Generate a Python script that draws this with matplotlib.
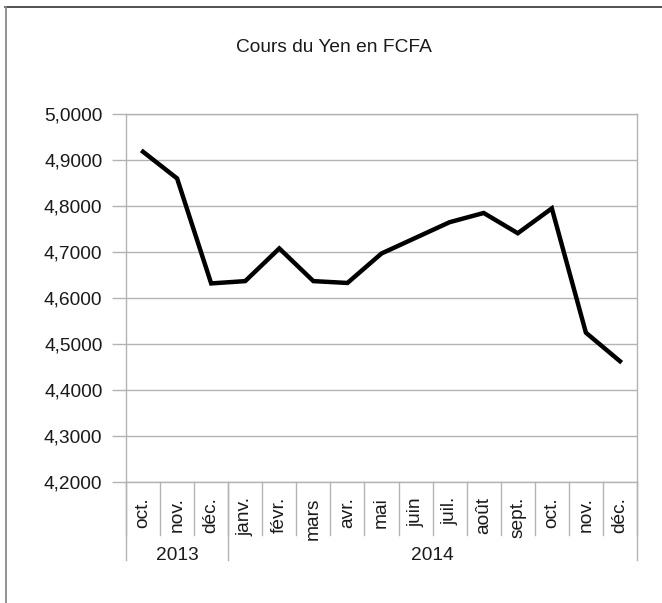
import matplotlib
matplotlib.use("Agg")
import matplotlib.pyplot as plt
from matplotlib.lines import Line2D
from matplotlib.ticker import FuncFormatter
import matplotlib.transforms as mtransforms
import numpy as np

plt.rcParams['font.family'] = ['Liberation Sans', 'DejaVu Sans']

title = "Cours du Yen en FCFA"
months = ["oct.", "nov.", "déc.", "janv.", "févr.", "mars", "avr.", "mai",
          "juin", "juil.", "août", "sept.", "oct.", "nov.", "déc."]
years = ["2013", "2014"]
year_counts = [3, 12]
values = [4.918, 4.860, 4.632, 4.637, 4.708, 4.637, 4.633, 4.697,
          4.731, 4.765, 4.785, 4.741, 4.795, 4.525, 4.463]
yticks = [4.2, 4.3, 4.4, 4.5, 4.6, 4.7, 4.8, 4.9, 5.0]

W, H = 662, 603
FS = 13.8
fig = plt.figure(figsize=(W / 100, H / 100), dpi=100)
ax = fig.add_axes([126 / W, 1 - 482.3 / H, (637 - 126) / W, (482.3 - 114) / H])

grid_c = "#b3b3b3"
txt_c = "#1a1a1a"
x = np.arange(len(values))
ax.plot(x, values, color="black", lw=3.2, solid_joinstyle="miter", zorder=3)
ax.set_xlim(-0.5, len(values) - 0.5)
ax.set_ylim(min(yticks), max(yticks))
ax.set_yticks(yticks)
ax.yaxis.set_major_formatter(FuncFormatter(lambda v, p: f"{v:.4f}".replace(".", ",")))
ax.tick_params(axis="y", length=10, width=1, color=grid_c, labelsize=FS, pad=7,
               labelcolor=txt_c)
ax.set_xticks([])
ax.grid(axis="y", color=grid_c, lw=1)
ax.set_axisbelow(True)
for s in ax.spines.values():
    s.set_color(grid_c)
    s.set_linewidth(1)

tr = mtransforms.blended_transform_factory(ax.transData, fig.transFigure)
y_axis = 1 - 482.3 / H
y_month_end = 1 - 535 / H
y_year_end = 1 - 560 / H
# month separators
for b in np.arange(len(values) + 1) - 0.5:
    ax.add_artist(Line2D([b, b], [y_axis, y_month_end], transform=tr, color=grid_c,
                         lw=1, clip_on=False))
for i, m in enumerate(months):
    ax.text(i, 1 - 497 / H, m, transform=tr, rotation=90, ha="center", va="top",
            fontsize=FS, color=txt_c)
# year separators
bounds = [-0.5]
for c in year_counts:
    bounds.append(bounds[-1] + c)
for b in bounds:
    ax.add_artist(Line2D([b, b], [y_axis, y_year_end], transform=tr, color=grid_c,
                         lw=1, clip_on=False))
for yname, b0, b1 in zip(years, bounds[:-1], bounds[1:]):
    ax.text((b0 + b1) / 2, 1 - 556 / H, yname, transform=tr, ha="center", va="center",
            fontsize=FS, color=txt_c)

fig.text(0.5 * (234 + 433) / W, 1 - 47 / H, title, ha="center", va="center",
         fontsize=FS, color=txt_c)

# outer frame
fig.add_artist(Line2D([5 / W, 1], [1 - 7 / H, 1 - 7 / H], transform=fig.transFigure,
                      color="#333333", lw=1.2))
fig.add_artist(Line2D([5.5 / W, 5.5 / W], [0, 1 - 7 / H], transform=fig.transFigure,
                      color="#888888", lw=1.3))

fig.savefig("out.png", dpi=100)
